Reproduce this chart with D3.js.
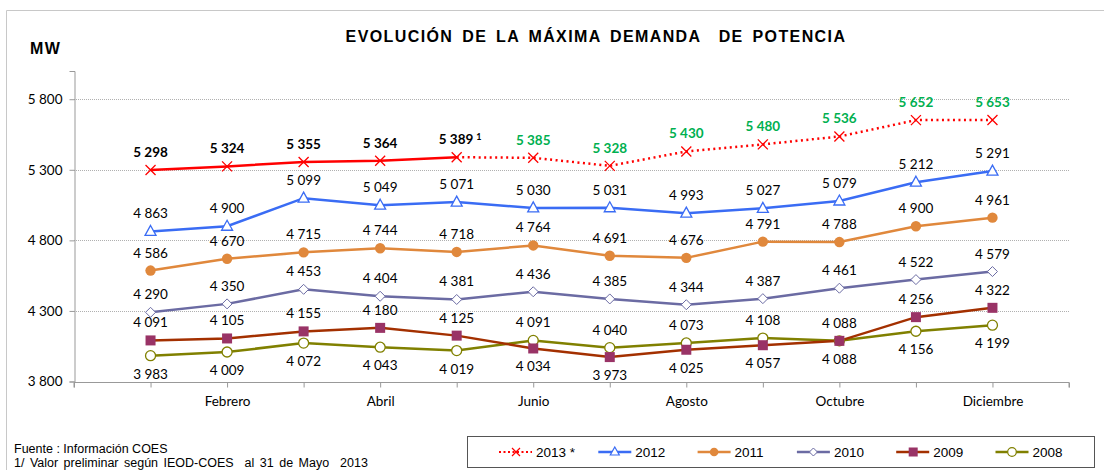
<!DOCTYPE html>
<html><head><meta charset="utf-8">
<script src="https://cdn.jsdelivr.net/npm/d3@7"></script>
<style>
body{margin:0;background:#fff;}
svg{display:block;}
</style></head>
<body><svg id="c" width="1104" height="470"></svg>
<script>
const months = ["Enero","Febrero","Marzo","Abril","Mayo","Junio","Julio","Agosto","Septiembre","Octubre","Noviembre","Diciembre"];
const yTicks = [3800, 4300, 4800, 5300, 5800];
const s2013 = [5298, 5324, 5355, 5364, 5389, 5385, 5328, 5430, 5480, 5536, 5652, 5653];
const s2012 = [4863, 4900, 5099, 5049, 5071, 5030, 5031, 4993, 5027, 5079, 5212, 5291];
const s2011 = [4586, 4670, 4715, 4744, 4718, 4764, 4691, 4676, 4791, 4788, 4900, 4961];
const s2010 = [4290, 4350, 4453, 4404, 4381, 4436, 4385, 4344, 4387, 4461, 4522, 4579];
const s2009 = [4091, 4105, 4155, 4180, 4125, 4034, 3973, 4025, 4057, 4088, 4256, 4322];
const s2008 = [3983, 4009, 4072, 4043, 4019, 4091, 4040, 4073, 4108, 4088, 4156, 4199];
const lastReal2013 = 4; // May: real data through index 4, projected after
const seriesNames = ["2013 *", "2012", "2011", "2010", "2009", "2008"];

const svg = d3.select("#c");
const fmt = v => d3.format(",")(v).replace(",", " ");
const numFont = "Lato, 'Open Sans', sans-serif";
const arial = "'Liberation Sans', Arial, sans-serif";

// frame
svg.append("path").attr("d","M6.5,470 L6.5,10.5 L1104,10.5").attr("fill","none").attr("stroke","#c8c8c8").attr("stroke-width",1);

const x = d3.scaleLinear().domain([-1, 12]).range([74, 1069]);
const y = d3.scaleLinear().domain([3800, 6000]).range([381.5, 71]);

// gridlines
svg.append("g").selectAll("line").data(yTicks.filter(t => t > 3800)).join("line")
  .attr("x1", x(-1)).attr("x2", x(12)).attr("y1", d => Math.round(y(d))+0.5).attr("y2", d => Math.round(y(d))+0.5)
  .attr("stroke","#b0b0b0").attr("stroke-dasharray","1,1").attr("stroke-width",1);

// y axis
const yAxis = d3.axisLeft(y).tickValues(yTicks).tickFormat(fmt).tickSize(5).tickPadding(7);
const gy = svg.append("g").attr("transform","translate(74.5,0)").call(yAxis);
gy.select(".domain").attr("stroke","#999");
gy.selectAll(".tick line").attr("stroke","#999");
gy.selectAll(".tick text").attr("font-family",numFont).attr("font-size",13.5).attr("fill","#000");

// x axis
const xAxis = d3.axisBottom(x).tickValues(d3.range(-1, 13)).tickSize(5).tickPadding(9)
  .tickFormat(i => (i >= 0 && i < 12 && i % 2 === 1) ? months[i] : "");
const gx = svg.append("g").attr("transform",`translate(0,${Math.round(y(3800))+0.5})`).call(xAxis);
gx.select(".domain").attr("stroke","#999").attr("d", `M${x(-1)},5V0H${x(12)}V5`);
gx.selectAll(".tick line").attr("stroke","#999");
gx.selectAll(".tick text").attr("font-family",numFont).attr("font-size",13.5).attr("fill","#000");

// title
svg.append("text").attr("x",596).attr("y",42).attr("text-anchor","middle")
  .attr("font-family",arial).attr("font-weight","bold").attr("font-size",16)
  .attr("letter-spacing","1.4px").attr("word-spacing","3px").attr("fill","#000").attr("xml:space","preserve")
  .text("EVOLUCIÓN DE LA MÁXIMA DEMANDA  DE POTENCIA");
svg.append("text").attr("x",30).attr("y",54)
  .attr("font-family",arial).attr("font-weight","bold").attr("font-size",16).attr("letter-spacing","1.5px")
  .attr("fill","#000").text("MW");

// marker drawing
function marker(g, type, color, cx, cy) {
  if (type === "x") {
    const s = 5;
    g.append("path").attr("d",`M${cx-s},${cy-s}L${cx+s},${cy+s}M${cx-s},${cy+s}L${cx+s},${cy-s}`)
      .attr("stroke",color).attr("stroke-width",1.3).attr("fill","none");
  } else if (type === "tri") {
    g.append("path").attr("d",`M${cx},${cy-6}L${cx+5.5},${cy+4}L${cx-5.5},${cy+4}Z`)
      .attr("stroke",color).attr("stroke-width",1.3).attr("fill","#fff");
  } else if (type === "dot") {
    g.append("circle").attr("cx",cx).attr("cy",cy).attr("r",5.2).attr("fill",color);
  } else if (type === "diamond") {
    g.append("path").attr("d",`M${cx},${cy-5}L${cx+5},${cy}L${cx},${cy+5}L${cx-5},${cy}Z`)
      .attr("stroke",color).attr("stroke-width",1).attr("fill","#fff");
  } else if (type === "square") {
    g.append("rect").attr("x",cx-5).attr("y",cy-5).attr("width",10).attr("height",10).attr("fill",color);
  } else if (type === "ocircle") {
    g.append("circle").attr("cx",cx).attr("cy",cy).attr("r",5).attr("fill","#fff").attr("stroke",color).attr("stroke-width",1.3);
  }
}

const series = [
  {name:"2008", data:s2008, line:"#808000", mk:"ocircle", mc:"#808000"},
  {name:"2009", data:s2009, line:"#a33000", mk:"square", mc:"#993366"},
  {name:"2010", data:s2010, line:"#6b6ba3", mk:"diamond", mc:"#6b6ba3"},
  {name:"2011", data:s2011, line:"#e0883c", mk:"dot", mc:"#e0883c"},
  {name:"2012", data:s2012, line:"#3a6cf4", mk:"tri", mc:"#3a6cf4"},
  {name:"2013", data:s2013, line:"#ff0000", mk:"x", mc:"#ff0000"}
];

const lineGen = d3.line().x(d => x(d[0])).y(d => y(d[1]));
const plot = svg.append("g");
series.forEach(s => {
  const pts = s.data.map((v,i) => [i,v]);
  if (s.name === "2013") {
    plot.append("path").attr("d", lineGen(pts.slice(0, lastReal2013+1))).attr("fill","none")
      .attr("stroke",s.line).attr("stroke-width",2.5);
    plot.append("path").attr("d", lineGen(pts.slice(lastReal2013))).attr("fill","none")
      .attr("stroke",s.line).attr("stroke-width",2.5).attr("stroke-dasharray","2,3.5");
  } else {
    plot.append("path").attr("d", lineGen(pts)).attr("fill","none")
      .attr("stroke",s.line).attr("stroke-width",2.5);
  }
});
series.forEach(s => {
  s.data.forEach((v,i) => marker(plot, s.mk, s.mc, x(i), y(v)));
});

// labels
const lab = svg.append("g").attr("font-family",numFont).attr("font-size",13.5).attr("text-anchor","middle");
series.forEach(s => {
  s.data.forEach((v,i) => {
    let below = false;
    if (s.name === "2009") below = !(s2009[i] > s2008[i]);
    if (s.name === "2008") below = (s2009[i] > s2008[i]);
    const ty = below ? y(v) + 23 : y(v) - 13;
    const t = lab.append("text").attr("x", x(i)).attr("y", ty).attr("fill","#000");
    if (s.name === "2013") {
      t.attr("font-weight","bold").attr("fill", i <= lastReal2013 ? "#000" : "#00b050");
      if (i === lastReal2013) {
        t.attr("text-anchor","start").attr("x", x(i) - 18);
        t.append("tspan").text(fmt(v));
        t.append("tspan").attr("font-size",9).attr("dy",-4).attr("dx",3).text("1");
        return;
      }
    }
    t.text(fmt(v));
  });
});

// footnotes
const fn = svg.append("g").attr("font-family",arial).attr("font-size",12.5).attr("fill","#000");
fn.append("text").attr("x",14).attr("y",453).text("Fuente : Información COES");
fn.append("text").attr("x",14).attr("y",467).attr("xml:space","preserve").attr("word-spacing","2px")
  .text("1/ Valor preliminar según IEOD-COES  al 31 de Mayo  2013");

// legend
const lg = svg.append("g");
lg.append("rect").attr("x",467.5).attr("y",436.5).attr("width",627).attr("height",31).attr("fill","#fff").attr("stroke","#555").attr("stroke-width",1);
const legOrder = ["2013","2012","2011","2010","2009","2008"];
legOrder.forEach((nm,k) => {
  const s = series.find(d => d.name === nm);
  const x0 = 499 + k * 99.3, ly = 452;
  const l = lg.append("line").attr("x1",x0).attr("x2",x0+33).attr("y1",ly).attr("y2",ly)
    .attr("stroke",s.line).attr("stroke-width",2.5);
  if (nm === "2013") l.attr("stroke-dasharray","2,2.5").attr("stroke-width",2);
  const g2 = lg.append("g");
  if (s.mk === "x") {
    g2.append("path").attr("d",`M${x0+13},${ly-4}L${x0+21},${ly+4}M${x0+13},${ly+4}L${x0+21},${ly-4}`).attr("stroke",s.mc).attr("stroke-width",1.2);
  } else if (s.mk === "tri") {
    g2.append("path").attr("d",`M${x0+16.5},${ly-5}L${x0+21},${ly+3}L${x0+12},${ly+3}Z`).attr("stroke",s.mc).attr("stroke-width",1.2).attr("fill","#fff");
  } else if (s.mk === "dot") {
    g2.append("circle").attr("cx",x0+16.5).attr("cy",ly).attr("r",4.3).attr("fill",s.mc);
  } else if (s.mk === "diamond") {
    g2.append("path").attr("d",`M${x0+16.5},${ly-4}L${x0+20.5},${ly}L${x0+16.5},${ly+4}L${x0+12.5},${ly}Z`).attr("stroke",s.mc).attr("fill","#fff");
  } else if (s.mk === "square") {
    g2.append("rect").attr("x",x0+12.5).attr("y",ly-4.5).attr("width",9).attr("height",9).attr("fill",s.mc);
  } else {
    g2.append("circle").attr("cx",x0+16.5).attr("cy",ly).attr("r",4.3).attr("fill","#fff").attr("stroke",s.mc).attr("stroke-width",1.2);
  }
  lg.append("text").attr("x",x0+37).attr("y",ly+4.5).attr("font-family",arial)
    .attr("font-size",13.5).attr("fill","#000").text(seriesNames[k]);
});
</script>
</body></html>
